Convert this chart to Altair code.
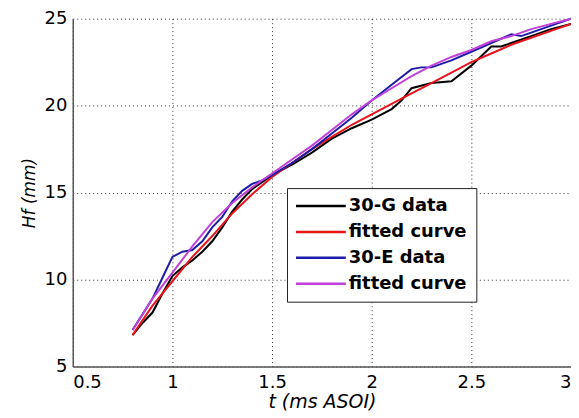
import altair as alt
import pandas as pd

# 30-G measured data
t_g = [0.80, 0.85, 0.90, 0.95, 1.00, 1.05, 1.10, 1.15, 1.20, 1.25, 1.30, 1.35, 1.40, 1.50,
       1.60, 1.70, 1.80, 1.90, 2.00, 2.10, 2.15, 2.20, 2.30, 2.40, 2.50, 2.60, 2.65, 2.70,
       2.80, 2.90, 3.00]
h_g = [6.8, 7.5, 8.1, 9.2, 10.2, 10.7, 11.1, 11.6, 12.2, 13.0, 13.9, 14.6, 15.2, 16.0,
       16.6, 17.3, 18.1, 18.7, 19.2, 19.8, 20.3, 21.0, 21.3, 21.4, 22.3, 23.4, 23.4, 23.6,
       24.0, 24.4, 24.7]

# fitted curves (shared time grid)
t_fit = [0.8, 0.9, 1.0, 1.1, 1.2, 1.3, 1.4, 1.5, 1.6, 1.7, 1.8, 1.9, 2.0, 2.1, 2.2, 2.3,
         2.4, 2.5, 2.6, 2.7, 2.8, 2.9, 3.0]
h_gfit = [6.8, 8.5, 9.9, 11.3, 12.5, 13.8, 14.9, 15.9, 16.7, 17.5, 18.2, 18.9, 19.5, 20.1,
          20.7, 21.3, 21.9, 22.5, 23.0, 23.5, 23.9, 24.3, 24.7]
h_efit = [7.1, 8.9, 10.4, 11.9, 13.3, 14.4, 15.3, 16.1, 16.9, 17.7, 18.6, 19.5, 20.3, 21.0,
          21.7, 22.3, 22.8, 23.2, 23.7, 24.0, 24.4, 24.7, 25.0]

# 30-E measured data
t_e = [0.80, 0.85, 0.90, 0.95, 1.00, 1.05, 1.10, 1.15, 1.20, 1.25, 1.30, 1.35, 1.40, 1.45,
       1.50, 1.60, 1.70, 1.80, 1.90, 2.00, 2.10, 2.20, 2.25, 2.30, 2.40, 2.50, 2.60, 2.70,
       2.75, 2.80, 2.90, 3.00]
h_e = [7.1, 8.0, 8.9, 10.1, 11.3, 11.6, 11.7, 12.2, 13.0, 13.6, 14.5, 15.1, 15.5, 15.7,
       16.0, 16.7, 17.5, 18.4, 19.3, 20.3, 21.2, 22.1, 22.2, 22.2, 22.6, 23.1, 23.6, 24.1,
       24.0, 24.2, 24.6, 25.0]

series = ["30-G data", "30-G fit", "30-E data", "30-E fit"]
colors = ["#000000", "#e8141c", "#1c1ca8", "#c040d8"]

rows = []
for s, ts, hs in [(series[0], t_g, h_g), (series[1], t_fit, h_gfit),
                  (series[2], t_e, h_e), (series[3], t_fit, h_efit)]:
    for i, (tv, hv) in enumerate(zip(ts, hs)):
        rows.append({"series": s, "t": tv, "h": hv, "i": i})
df = pd.DataFrame(rows)

x = alt.X("t:Q", scale=alt.Scale(domain=[0.5, 3], nice=False, zero=False),
          axis=alt.Axis(values=[0.5, 1, 1.5, 2, 2.5, 3], format="~g",
                        title="t (ms ASOI)", titleFontSize=19, titlePadding=1,
                        labelPadding=7))
y = alt.Y("h:Q", scale=alt.Scale(domain=[5, 25], nice=False, zero=False),
          axis=alt.Axis(values=[5, 10, 15, 20, 25], title="Hf (mm)", titleFontSize=17,
                        titlePadding=6, labelPadding=6))
color = alt.Color(
    "series:N",
    scale=alt.Scale(domain=series, range=colors),
    legend=alt.Legend(
        title=None, orient="none", legendX=215, legendY=170,
        symbolType="M-1.8,0H8.2", symbolSize=100, symbolStrokeWidth=2.5,
        labelOffset=35, padding=9, rowPadding=8,
        strokeColor="#222222", fillColor="white",
        labelFont="DejaVu Sans", labelFontWeight="bold", labelFontSize=18,
        labelColor="black", labelLimit=300,
        labelExpr="indexof(datum.label, 'fit') >= 0 ? 'fitted curve' : datum.label",
    ),
)

base = alt.Chart(df).mark_line(strokeWidth=2).encode(x=x, y=y, color=color, order="i:Q")
layers = [base.transform_filter(alt.datum.series == s) for s in series]

chart = alt.layer(*layers).properties(
    width=500, height=349,
    autosize=alt.AutoSizeParams(type="none"),
    padding={"left": 65, "top": 10, "right": 0, "bottom": 50},
).configure_view(strokeWidth=0).configure_axis(
    labelFont="DejaVu Sans", labelFontSize=18, labelColor="black",
    titleFont="DejaVu Sans", titleFontStyle="italic", titleFontWeight="normal",
    titleColor="black",
    gridDash=[1, 3], gridColor="#333333", gridOpacity=1, gridWidth=1,
    domainColor="#555555", domainWidth=1.5, ticks=False,
)

chart.save("out.html", embed_options={"renderer": "svg", "actions": False})
